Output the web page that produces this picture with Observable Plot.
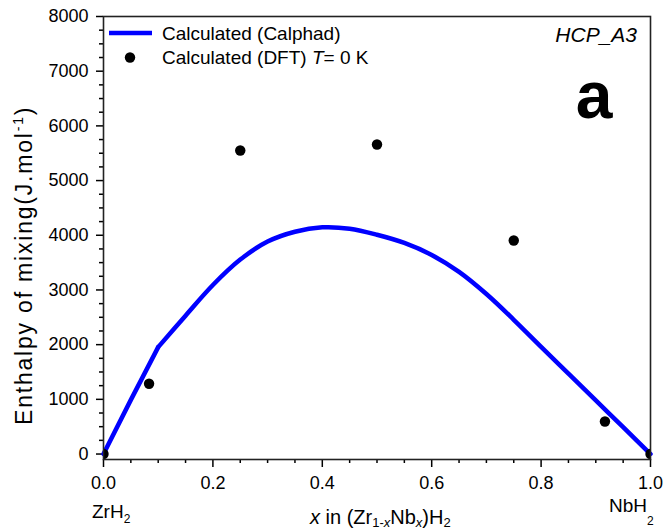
<!DOCTYPE html>
<html><head><meta charset="utf-8">
<script src="https://cdn.jsdelivr.net/npm/d3@7"></script>
<script src="https://cdn.jsdelivr.net/npm/@observablehq/plot@0.6"></script>
<style>body{margin:0;background:#fff} #chart svg{display:block}</style>
</head><body><div id="chart"></div>
<script>
const xMajorTicks = [0, 0.2, 0.4, 0.6, 0.8, 1.0];
const xMinorTicks = [0.05, 0.1, 0.15, 0.25, 0.3, 0.35, 0.45, 0.5, 0.55, 0.65, 0.7, 0.75, 0.85, 0.9, 0.95];
const yMajorTicks = [0, 1000, 2000, 3000, 4000, 5000, 6000, 7000, 8000];
const yMinorTicks = [250, 500, 750, 1250, 1500, 1750, 2250, 2500, 2750, 3250, 3500, 3750, 4250, 4500, 4750, 5250, 5500, 5750, 6250, 6500, 6750, 7250, 7500, 7750];

// Calculated (Calphad) curve
const calphadX = [0, 0.05, 0.1, 0.15, 0.2, 0.25, 0.3, 0.35, 0.4, 0.45, 0.5, 0.55, 0.6, 0.65, 0.7, 0.75, 0.8, 0.85, 0.9, 0.95, 1.0];
const calphadY = [0, 990, 1955, 2530, 3090, 3555, 3885, 4065, 4145, 4120, 4010, 3860, 3640, 3330, 2925, 2455, 1960, 1470, 980, 490, 0];
// Calculated (DFT) T = 0 K
const dftX = [0, 0.0833, 0.25, 0.5, 0.75, 0.9167, 1.0];
const dftY = [0, 1285, 5550, 5660, 3905, 595, 0];

const calphad = calphadX.map((x, i) => ({x, y: calphadY[i]}));
const seg1 = calphad.filter(d => d.x <= 0.1);
const seg2 = calphad.filter(d => d.x >= 0.1);
const dft = dftX.map((x, i) => ({x, y: dftY[i]}));

const FONT = "'Liberation Sans', Arial, Helvetica, sans-serif";

const plot = Plot.plot({
  width: 667, height: 531,
  marginLeft: 103, marginRight: 17, marginTop: 16, marginBottom: 72,
  style: {fontFamily: FONT, fontSize: "18px", color: "#000", background: "#fff", overflow: "visible"},
  x: {domain: [0, 1]},
  y: {domain: [-100, 8000]},
  marks: [
    Plot.axisX({ticks: xMajorTicks, tickSize: 8, tickPadding: 9, tickFormat: d3.format(".1f"), label: null, strokeWidth: 1.5, fontSize: 18}),
    Plot.axisX({ticks: xMinorTicks, tickSize: 4, tickFormat: () => "", label: null, strokeWidth: 1.5}),
    Plot.axisY({ticks: yMajorTicks, tickSize: 7, tickPadding: 8, tickFormat: d => String(d), label: null, strokeWidth: 1.5, fontSize: 18}),
    Plot.axisY({ticks: yMinorTicks, tickSize: 4, tickFormat: () => "", label: null, strokeWidth: 1.5}),
    Plot.line(seg1, {x: "x", y: "y", stroke: "#0000ff", strokeWidth: 4.5}),
    Plot.line(seg2, {x: "x", y: "y", stroke: "#0000ff", strokeWidth: 4.5, curve: "catmull-rom"}),
    Plot.dot(dft, {x: "x", y: "y", r: 5.2, fill: "#000", clip: true}),
    Plot.frame({stroke: "#222", strokeWidth: 1.6})
  ]
});

const svg = d3.select(plot);
const g = svg.append("g").attr("font-family", FONT).attr("fill", "#000").attr("text-anchor", "start");

// Legend
g.append("line").attr("x1", 109).attr("x2", 152).attr("y1", 33).attr("y2", 33)
  .attr("stroke", "#0000ff").attr("stroke-width", 4.5);
g.append("text").attr("x", 162).attr("y", 40).attr("font-size", 19).text("Calculated (Calphad)");
g.append("circle").attr("cx", 130).attr("cy", 57.5).attr("r", 5.2).attr("fill", "#000");
const t2 = g.append("text").attr("x", 162).attr("y", 64).attr("font-size", 19);
t2.append("tspan").text("Calculated (DFT) ");
t2.append("tspan").attr("font-style", "italic").text("T");
t2.append("tspan").text("= 0 K");

// Phase label and panel letter
g.append("text").attr("x", 637).attr("y", 42).attr("text-anchor", "end")
  .attr("font-size", 21).attr("font-style", "italic").text("HCP_A3");
g.append("text").attr("x", 594).attr("y", 118).attr("text-anchor", "middle")
  .attr("font-size", 66).attr("font-weight", "bold").text("a");

// Y axis title
const yt = g.append("text").attr("transform", "translate(32,425) rotate(-90)")
  .attr("text-anchor", "start").attr("font-size", 23).attr("letter-spacing", 1.8);
yt.append("tspan").text("Enthalpy of mixing(J.mol");
yt.append("tspan").attr("font-size", 14).attr("dy", -9).text("-1");
yt.append("tspan").attr("dy", 9).text(")");

// X axis end labels
const zr = g.append("text").attr("x", 92).attr("y", 518).attr("font-size", 19);
zr.append("tspan").text("ZrH");
zr.append("tspan").attr("font-size", 12).attr("dy", 5).text("2");
const nb = g.append("text").attr("x", 609).attr("y", 512).attr("font-size", 19);
nb.append("tspan").text("NbH");
nb.append("tspan").attr("font-size", 12).attr("dy", 13).text("2");

// X axis title
const xt = g.append("text").attr("x", 310).attr("y", 524).attr("font-size", 20);
xt.append("tspan").attr("font-style", "italic").text("x");
xt.append("tspan").text(" in (Zr");
xt.append("tspan").attr("font-size", 13).attr("dy", 3).text("1-");
xt.append("tspan").attr("font-size", 13).attr("font-style", "italic").text("x");
xt.append("tspan").attr("dy", -3).text("Nb");
xt.append("tspan").attr("font-size", 13).attr("font-style", "italic").attr("dy", 3).text("x");
xt.append("tspan").attr("dy", -3).text(")H");
xt.append("tspan").attr("font-size", 13).attr("dy", 3).text("2");

document.getElementById("chart").appendChild(plot);
</script>
</body></html>
